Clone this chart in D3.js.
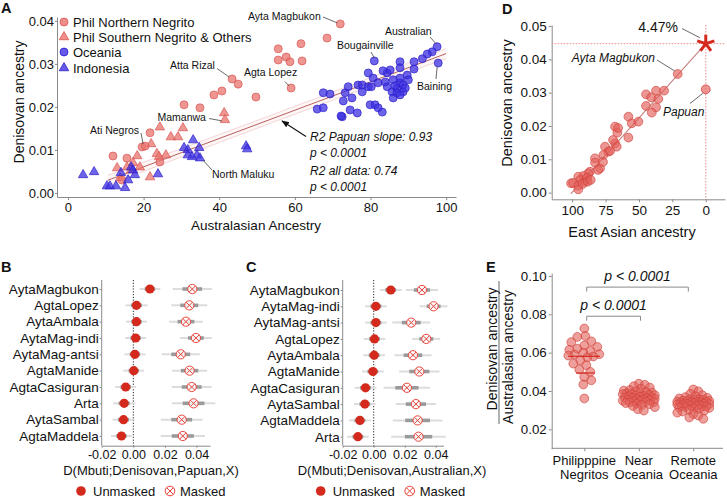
<!DOCTYPE html>
<html><head><meta charset="utf-8">
<script src="https://cdn.jsdelivr.net/npm/d3@7"></script>
<style>body{margin:0;background:#fff}svg{display:block}</style>
</head><body>
<svg id="c" width="727" height="498"></svg>
<script>
const FF = "'Liberation Sans', Arial, Helvetica, sans-serif";

// ---------- Panel A data ----------
const northNegritoX = [72.0,68.5,61.6,55.6,55.6,57.7,58.7,61.9,43.4,45.0,59.0,40.7,38.6,49.7,30.7,34.9,21.7,19.6,20.4,11.9,15.6,14.3,24.3];
const northNegritoY = [0.0393,0.0360,0.0347,0.0335,0.0309,0.0316,0.0305,0.0307,0.0265,0.0253,0.0244,0.0237,0.0228,0.0223,0.0205,0.0198,0.0140,0.0107,0.0109,0.0086,0.0081,0.0030,0.0072];
const southNegritoX = [41.3,41.5,24.3,30.4,27.2,29.1,22.0,18.3,23.5,25.9,24.1,13.0,15.6,19.0,21.7,17.2,13.8,16.7];
const southNegritoY = [0.0186,0.0170,0.0153,0.0151,0.0130,0.0130,0.0114,0.0086,0.0091,0.0088,0.0084,0.0058,0.0060,0.0060,0.0037,0.0070,0.0035,0.0053];
const oceaniaX = [81.0,97.6,96.3,95.0,93.7,91.5,97.9,91.5,87.8,87.8,67.5,69.3,65.9,67.5,72.5,74.6,75.1,72.8,73.3,74.1,76.7,77.8,79.4,79.9,81.2,82.0,83.1,79.4,80.7,82.0,83.9,84.4,85.2,85.7,86.0,87.0,87.8,87.8,88.6,88.6,89.7,90.0,86.0,77.8,87.0,87.8,84.4,86.5,89.2,80.2,83.3,76.5,72.2];
const oceaniaY = [0.0307,0.0340,0.0328,0.0323,0.0312,0.0305,0.0302,0.0288,0.0305,0.0291,0.0233,0.0230,0.0195,0.0198,0.0177,0.0193,0.0221,0.0214,0.0233,0.0247,0.0251,0.0235,0.0279,0.0205,0.0205,0.0198,0.0188,0.0247,0.0267,0.0256,0.0258,0.0279,0.0286,0.0235,0.0221,0.0244,0.0256,0.0267,0.0251,0.0235,0.0274,0.0263,0.0263,0.0251,0.0233,0.0228,0.0247,0.0249,0.0244,0.0247,0.0284,0.0186,0.0179];
const indonesiaX = [33.1,30.7,31.7,34.7,31.7,34.1,34.9,47.1,47.4,4.0,6.9,16.7,17.2,17.7,14.0,15.9,10.3,11.1,12.7,15.1,23.8,32.8];
const indonesiaY = [0.0123,0.0105,0.0100,0.0105,0.0088,0.0088,0.0081,0.0109,0.0102,0.0042,0.0049,0.0060,0.0053,0.0042,0.0047,0.0030,0.0016,0.0016,0.0016,0.0012,0.0044,0.0084];
const aXTicks = [0,20,40,60,80,100];
const aYTicks = [0,0.01,0.02,0.03,0.04];
const aFitX = [10.5,100];
const aSlope = 0.000329, aIntercept = -0.0005;
const aBandX = [10.5,30,55,80,100];
const aBandHW = [0.00115,0.00097,0.0009,0.00097,0.00115];

// ---------- Panels B, C data ----------
const bRows = ["AytaMagbukon","AgtaLopez","AytaAmbala","AytaMag-indi","AytaMag-antsi","AgtaManide","AgtaCasiguran","Arta","AytaSambal","AgtaMaddela"];
const bUnmasked = [0.0105,0.0020,0.0020,0.0015,0.0010,0.0003,-0.0048,-0.0058,-0.0062,-0.0075];
const bUnmaskedSE = [0.0033,0.0035,0.0033,0.0033,0.0033,0.0033,0.0033,0.0035,0.0035,0.0033];
const bMasked = [0.0373,0.0354,0.0333,0.0396,0.0300,0.0356,0.0369,0.0381,0.0306,0.0313];
const bMaskedSE = [0.0062,0.0057,0.0053,0.0050,0.0060,0.0055,0.0063,0.0069,0.0066,0.0070];
const cRows = ["AytaMagbukon","AytaMag-indi","AytaMag-antsi","AgtaLopez","AytaAmbala","AgtaManide","AgtaCasiguran","AytaSambal","AgtaMaddela","Arta"];
const cUnmasked = [0.0110,0.0014,0.0014,0.0005,0.0003,-0.0005,-0.0053,-0.0057,-0.0089,-0.0102];
const cUnmaskedSE = [0.0035,0.0035,0.0035,0.0035,0.0035,0.0035,0.0035,0.0035,0.0035,0.0035];
const cMasked = [0.0311,0.0386,0.0242,0.0339,0.0253,0.0294,0.0214,0.0272,0.0283,0.0289];
const cMaskedSE = [0.0052,0.0045,0.0061,0.0045,0.0060,0.0065,0.0075,0.0065,0.0080,0.0088];
const dxTicks = [-0.02,0,0.02,0.04];

// ---------- Panel D data ----------
const dEastAsian = [21.0,44.7,37.2,31.2,40.9,35.5,44.7,37.2,40.4,57.9,55.4,50.4,57.9,67.9,66.2,65.6,67.9,66.6,75.4,72.9,76.6,82.9,82.9,79.1,86.6,87.9,91.6,95.4,94.1,90.3,88.8,100.8,99.3,95.4,95.4,92.1,88.3,86.1,71.6,69.4,76.9,80.6];
const dDenisovan = [0.0356,0.0295,0.0306,0.0306,0.0286,0.0281,0.0260,0.0256,0.0240,0.0228,0.0208,0.0213,0.0165,0.0198,0.0180,0.0194,0.0148,0.0138,0.0138,0.0123,0.0113,0.0103,0.0090,0.0073,0.0063,0.0058,0.0050,0.0048,0.0038,0.0033,0.0044,0.0028,0.0029,0.0021,0.0010,0.0026,0.0033,0.0038,0.0125,0.0158,0.0092,0.0068];
const dPapuan = [0, 0.0310];
const dFitX = [101, 0];
const dFitY = [-0.0004, 0.0447];
const dStar = [0, 0.0447];
const dXTicks = [100,75,50,25,0];
const dYTicks = [0,0.01,0.02,0.03,0.04,0.05];

// ---------- Panel E data ----------
const eGroups = ["Philipppine Negritos","Near Oceania","Remote Oceania"];
const eNegritos = [0.0726,0.0687,0.0682,0.0659,0.0655,0.0638,0.0630,0.0621,0.0609,0.0615,0.0600,0.0592,0.0590,0.0585,0.0580,0.0575,0.0560,0.0543,0.0535,0.0512,0.0500,0.0473,0.0456,0.0434,0.0361];
const eNear = [0.0438,0.0432,0.0425,0.0418,0.0412,0.0405,0.0402,0.0398,0.0395,0.0392,0.0390,0.0388,0.0385,0.0383,0.0380,0.0378,0.0376,0.0374,0.0372,0.0370,0.0368,0.0366,0.0364,0.0362,0.0360,0.0358,0.0356,0.0354,0.0352,0.0350,0.0348,0.0346,0.0344,0.0342,0.0340,0.0337,0.0334,0.0331,0.0327,0.0322,0.0316,0.0305,0.0298];
const eRemote = [0.0408,0.0398,0.0385,0.0378,0.0372,0.0368,0.0364,0.0361,0.0358,0.0356,0.0354,0.0352,0.0350,0.0348,0.0347,0.0345,0.0344,0.0342,0.0341,0.0340,0.0338,0.0337,0.0335,0.0334,0.0332,0.0331,0.0330,0.0328,0.0326,0.0325,0.0323,0.0321,0.0319,0.0317,0.0315,0.0312,0.0310,0.0306,0.0302,0.0298,0.0293,0.0287,0.0280,0.0272,0.0262,0.0255];
const eNegritoLines = [0.0581, 0.0494];
const eYTicks = [0.02,0.04,0.06,0.08,0.10];
const eBrackets = [[0, 2, 0.0942], [0, 1, 0.0790]];

// ---------- helpers ----------
const RED_F = "#e8736d", RED_S = "#d9534f", BLUE_F = "#3d30e2", BLUE_S = "#2b1fca";
const DARKRED = "#d42a1e";
const svg = d3.select('#c');
function txt(g, x, y, s, o = {}) {
  const t = g.append('text').attr('x', x).attr('y', y).text(s)
    .attr('font-family', FF).attr('font-size', o.fs || 13).attr('fill', o.fill || '#111');
  if (o.anchor) t.attr('text-anchor', o.anchor);
  if (o.italic) t.attr('font-style', 'italic');
  if (o.bold) t.attr('font-weight', 'bold');
  if (o.rot) t.attr('transform', `rotate(-90,${x},${y})`).attr('dominant-baseline', 'central').attr('text-anchor', 'middle');
  return t;
}
function styleAxis(g, fs) {
  g.attr('font-family', FF).attr('font-size', fs);
  g.select('.domain').attr('stroke', '#8a8a8a');
  g.selectAll('.tick line').attr('stroke', '#8a8a8a');
  g.selectAll('.tick text').attr('fill', '#111');
}
function leader(g, x1, y1, x2, y2) {
  g.append('line').attr('x1', x1).attr('y1', y1).attr('x2', x2).attr('y2', y2).attr('stroke', '#444').attr('stroke-width', 0.8);
}
const fmt2 = d => d.toFixed(2);

// ================= Panel A =================
const gA = svg.append('g');
const xA = d3.scaleLinear().domain([-2.9, 102.6]).range([57, 456]);
const yA = d3.scaleLinear().domain([-0.00093, 0.0409]).range([197, 17]);
styleAxis(gA.append('g').attr('transform', 'translate(0,197)')
  .call(d3.axisBottom(xA).tickValues(aXTicks).tickSize(3).tickSizeOuter(0).tickPadding(3)), 13);
styleAxis(gA.append('g').attr('transform', 'translate(57,0)')
  .call(d3.axisLeft(yA).tickValues(aYTicks).tickFormat(fmt2).tickSize(2).tickSizeOuter(0).tickPadding(1)), 13);
txt(gA, 256, 229.5, 'Australasian Ancestry', {anchor: 'middle', fs: 13.5});
txt(gA, 19, 102, 'Denisovan ancestry', {rot: true, fs: 14});
txt(gA, 1, 13, 'A', {bold: true, fs: 14.5});

// band & fit
const bandArea = d3.area().x((d, i) => xA(d)).y0((d, i) => yA(aIntercept + aSlope * d - aBandHW[i])).y1((d, i) => yA(aIntercept + aSlope * d + aBandHW[i])).curve(d3.curveMonotoneX);
gA.append('path').attr('d', bandArea(aBandX)).attr('fill', '#fbeaea').attr('opacity', 0.45);
[-1, 1].forEach(s => {
  gA.append('path').attr('d', d3.line().x(d => xA(d)).y((d, i) => yA(aIntercept + aSlope * d + s * aBandHW[i])).curve(d3.curveMonotoneX)(aBandX))
    .attr('fill', 'none').attr('stroke', '#f3cccc').attr('stroke-width', 0.8);
});
gA.append('path').attr('d', d3.line().x(d => xA(d)).y(d => yA(aIntercept + aSlope * d))(aFitX))
  .attr('fill', 'none').attr('stroke', '#b8605c').attr('stroke-width', 1);

function drawSeries(g, xs, ys, X, Y, shape, fill, stroke, r) {
  const sym = shape === 'tri' ? d3.symbol(d3.symbolTriangle, r * r * 2.2) : d3.symbol(d3.symbolCircle, Math.PI * r * r);
  g.append('g').selectAll('path').data(xs).join('path')
    .attr('d', sym).attr('transform', (d, i) => `translate(${X(d)},${Y(ys[i])})`)
    .attr('fill', fill).attr('fill-opacity', 0.75).attr('stroke', stroke).attr('stroke-opacity', 0.85).attr('stroke-width', 0.8);
}
drawSeries(gA, southNegritoX, southNegritoY, xA, yA, 'tri', RED_F, RED_S, 4.2);
drawSeries(gA, northNegritoX, northNegritoY, xA, yA, 'circle', RED_F, RED_S, 4);
drawSeries(gA, indonesiaX, indonesiaY, xA, yA, 'tri', BLUE_F, BLUE_S, 4.2);
drawSeries(gA, oceaniaX, oceaniaY, xA, yA, 'circle', BLUE_F, BLUE_S, 4);

// legend
const legA = [['Phil Northern Negrito', 'circle', RED_F, RED_S], ['Phil Southern Negrito & Others', 'tri', RED_F, RED_S], ['Oceania', 'circle', BLUE_F, BLUE_S], ['Indonesia', 'tri', BLUE_F, BLUE_S]];
const legY = [22, 37, 52, 68];
legA.forEach((L, i) => {
  const sym = L[1] === 'tri' ? d3.symbol(d3.symbolTriangle, 4.2 * 4.2 * 2.2) : d3.symbol(d3.symbolCircle, Math.PI * 16);
  gA.append('path').attr('d', sym).attr('transform', `translate(64,${legY[i]})`).attr('fill', L[2]).attr('fill-opacity', 0.8).attr('stroke', L[3]).attr('stroke-width', 0.8);
  txt(gA, 73, legY[i] + 4.6, L[0], {fs: 13});
});

// annotations A
const annFs = 10.5;
txt(gA, 248, 19.5, 'Ayta Magbukon', {fs: annFs}); leader(gA, 323, 17, xA(northNegritoX[0]) - 3, yA(northNegritoY[0]) - 1);
txt(gA, 385, 34.5, 'Australian', {fs: annFs}); leader(gA, 430, 37, xA(oceaniaX[1]) - 1, yA(oceaniaY[1]) - 3);
txt(gA, 337, 48.5, 'Bougainville', {fs: annFs}); leader(gA, 371, 52, xA(oceaniaX[0]), yA(oceaniaY[0]) - 3);
txt(gA, 417, 89.5, 'Baining', {fs: annFs}); leader(gA, 436, 79, xA(oceaniaX[6]) - 1, yA(oceaniaY[6]) + 3);
txt(gA, 170, 69, 'Atta Rizal', {fs: annFs}); leader(gA, 217, 68.5, xA(northNegritoX[8]) - 3, yA(northNegritoY[8]) - 2);
txt(gA, 244, 75.5, 'Agta Lopez', {fs: annFs}); leader(gA, 285, 81.5, xA(northNegritoX[10]) - 2, yA(northNegritoY[10]) - 2);
txt(gA, 157.5, 120.5, 'Mamanwa', {fs: annFs}); leader(gA, 209, 118.5, xA(southNegritoX[1]) - 3, yA(southNegritoY[1]) + 1);
txt(gA, 90, 134, 'Ati Negros', {fs: annFs}); leader(gA, 141, 133, xA(northNegritoX[17]) + 1, yA(northNegritoY[17]) - 3);
txt(gA, 212, 178, 'North Maluku', {fs: annFs}); leader(gA, 212, 170, xA(indonesiaX[6]) + 3, yA(indonesiaY[6]) + 2);

// arrow + stats text
const defs = svg.append('defs');
defs.append('marker').attr('id', 'arr').attr('viewBox', '0 0 10 10').attr('refX', 9).attr('refY', 5)
  .attr('markerWidth', 7).attr('markerHeight', 7).attr('orient', 'auto-start-reverse')
  .append('path').attr('d', 'M0,1 L10,5 L0,9 z').attr('fill', '#111');
gA.append('line').attr('x1', 306).attr('y1', 136.5).attr('x2', 282).attr('y2', 121).attr('stroke', '#111').attr('stroke-width', 1.1).attr('marker-end', 'url(#arr)');
txt(gA, 310, 141, 'R2 Papuan slope: 0.93', {italic: true, fs: 12});
txt(gA, 310, 157, 'p < 0.0001', {italic: true, fs: 12});
txt(gA, 310, 175, 'R2 all data: 0.74', {italic: true, fs: 12});
txt(gA, 310, 191, 'p < 0.0001', {italic: true, fs: 12});

// ================= Panels B & C =================
function maskedSym(g, x, y, r) {
  g.append('circle').attr('cx', x).attr('cy', y).attr('r', r).attr('fill', '#fff').attr('fill-opacity', 0.85).attr('stroke', '#e8453c').attr('stroke-width', 1);
  const k = r * 0.7;
  g.append('path').attr('d', `M${x - k},${y - k}L${x + k},${y + k}M${x - k},${y + k}L${x + k},${y - k}`).attr('stroke', '#e8453c').attr('stroke-width', 1);
}
function dPanel(o) {
  const g = svg.append('g');
  const x = d3.scaleLinear().domain(o.xDom).range(o.xRange);
  const y = d3.scalePoint().domain(o.rows).range(o.yRange);
  styleAxis(g.append('g').attr('transform', `translate(0,445.7)`)
    .call(d3.axisBottom(x).tickValues(dxTicks).tickFormat(fmt2).tickSize(2).tickSizeOuter(0).tickPadding(2)), 12.5);
  const ya = g.append('g').attr('transform', `translate(${o.xRange[0]},0)`)
    .call(d3.axisLeft(y).tickSize(2).tickSizeOuter(0).tickPadding(1));
  styleAxis(ya, 13.5);
  ya.select('.domain').attr('d', `M-0,280V445.7`);
  g.append('line').attr('x1', x(0)).attr('x2', x(0)).attr('y1', 280).attr('y2', 445.7)
    .attr('stroke', '#222').attr('stroke-width', 1).attr('stroke-dasharray', '1.2,1.6');
  o.rows.forEach((r, i) => {
    const yy = y(r);
    [[o.unm[i], o.unmSE[i]], [o.msk[i], o.mskSE[i]]].forEach(([v, se]) => {
      g.append('line').attr('x1', x(v - 2 * se)).attr('x2', x(v + 2 * se)).attr('y1', yy).attr('y2', yy).attr('stroke', '#dcdcdc').attr('stroke-width', 2);
      g.append('line').attr('x1', x(v - se)).attr('x2', x(v + se)).attr('y1', yy).attr('y2', yy).attr('stroke', '#9a9a9a').attr('stroke-width', 3.6);
    });
    g.append('circle').attr('cx', x(o.unm[i])).attr('cy', yy).attr('r', 4.6).attr('fill', DARKRED);
    maskedSym(g, x(o.msk[i]), yy, 4.6);
  });
  txt(g, o.titleX, 474.5, o.title, {anchor: 'middle', fs: 13});
  g.append('circle').attr('cx', o.legX).attr('cy', 491).attr('r', 4.8).attr('fill', DARKRED);
  txt(g, o.legX + 12, 495.7, 'Unmasked', {fs: 13});
  maskedSym(g, o.legX + 89, 491, 4.8);
  txt(g, o.legX + 99, 495.7, 'Masked', {fs: 13});
  txt(g, o.labX, 271.5, o.lab, {bold: true, fs: 14.5});
}
dPanel({rows: bRows, unm: bUnmasked, unmSE: bUnmaskedSE, msk: bMasked, mskSE: bMaskedSE,
  xDom: [-0.02, 0.0485], xRange: [101.7, 210], yRange: [289, 436],
  title: 'D(Mbuti;Denisovan,Papuan,X)', titleX: 151, legX: 81, lab: 'B', labX: 1});
dPanel({rows: cRows, unm: cUnmasked, unmSE: cUnmaskedSE, msk: cMasked, mskSE: cMaskedSE,
  xDom: [-0.02, 0.045], xRange: [342.7, 443.5], yRange: [290, 436.7],
  title: 'D(Mbuti;Denisovan,Australian,X)', titleX: 392, legX: 320.7, lab: 'C', labX: 246});

// ================= Panel D =================
const gD = svg.append('g');
const xD = d3.scaleLinear().domain([115.3, -14.4]).range([551.7, 725]);
const yD = d3.scaleLinear().domain([-0.002, 0.0503]).range([199.3, 25]);
styleAxis(gD.append('g').attr('transform', 'translate(0,199.3)')
  .call(d3.axisBottom(xD).tickValues(dXTicks).tickSize(3).tickSizeOuter(0).tickPadding(3)), 13.5);
styleAxis(gD.append('g').attr('transform', 'translate(551.7,0)')
  .call(d3.axisLeft(yD).tickValues(dYTicks).tickFormat(fmt2).tickSize(3).tickSizeOuter(0).tickPadding(2)), 13.5);
txt(gD, 632, 236.5, 'East Asian ancestry', {anchor: 'middle', fs: 14.5});
txt(gD, 507, 103, 'Denisovan ancestry', {rot: true, fs: 14.5});
txt(gD, 502, 14, 'D', {bold: true, fs: 14.5});
gD.append('line').attr('x1', 551.7).attr('x2', 725).attr('y1', yD(dStar[1])).attr('y2', yD(dStar[1]))
  .attr('stroke', '#f08a8a').attr('stroke-width', 1).attr('stroke-dasharray', '1.5,1.5');
gD.append('line').attr('x1', xD(dStar[0])).attr('x2', xD(dStar[0])).attr('y1', 25).attr('y2', 199.3)
  .attr('stroke', '#f08a8a').attr('stroke-width', 1).attr('stroke-dasharray', '1.5,1.5');
gD.append('line').attr('x1', xD(dFitX[0])).attr('y1', yD(dFitY[0])).attr('x2', xD(dFitX[1])).attr('y2', yD(dFitY[1]))
  .attr('stroke', '#c4847f').attr('stroke-width', 1.1);
gD.append('g').selectAll('circle').data(dEastAsian).join('circle')
  .attr('cx', d => xD(d)).attr('cy', (d, i) => yD(dDenisovan[i])).attr('r', 4.4)
  .attr('fill', '#e3605a').attr('fill-opacity', 0.65).attr('stroke', '#d0403a').attr('stroke-opacity', 0.8).attr('stroke-width', 0.8);
gD.append('circle').attr('cx', xD(dPapuan[0])).attr('cy', yD(dPapuan[1])).attr('r', 4.4)
  .attr('fill', '#e3605a').attr('fill-opacity', 0.65).attr('stroke', '#d0403a').attr('stroke-width', 0.8);
// star
(function () {
  const cx = xD(dStar[0]), cy = yD(dStar[1]); let d = '';
  for (let k = 0; k < 5; k++) { const a = (-90 + 72 * k) * Math.PI / 180; d += `M${cx},${cy}L${cx + 9 * Math.cos(a)},${cy + 9 * Math.sin(a)}`; }
  gD.append('path').attr('d', d).attr('stroke', DARKRED).attr('stroke-width', 3).attr('stroke-linecap', 'butt');
})();
txt(gD, 678, 31.5, '4.47%', {anchor: 'end', fs: 14});
leader(gD, 682, 28.5, xD(dStar[0]) - 6, yD(dStar[1]) - 6);
txt(gD, 655, 61.5, 'Ayta Magbukon', {anchor: 'end', fs: 12, italic: true});
leader(gD, 657, 60, xD(dEastAsian[0]) - 3, yD(dDenisovan[0]) - 3);
txt(gD, 663, 116, 'Papuan', {fs: 12, italic: true});
leader(gD, 690, 103.5, xD(dPapuan[0]) - 3, yD(dPapuan[1]) + 4);

// ================= Panel E =================
const gE = svg.append('g');
const xE = d3.scalePoint().domain(eGroups).range([584.3, 693.3]);
const yE = d3.scaleLinear().domain([0.0099, 0.1015]).range([448.7, 273.1]);
const ax = gE.append('g').attr('transform', 'translate(0,448.3)')
  .call(d3.axisBottom(xE).tickSize(3).tickSizeOuter(0).tickFormat(''));
styleAxis(ax, 13);
ax.select('.domain').attr('d', 'M551.7,0H723');
styleAxis(gE.append('g').attr('transform', 'translate(551.7,0)')
  .call(d3.axisLeft(yE).tickValues(eYTicks).tickFormat(fmt2).tickSize(3).tickSizeOuter(0).tickPadding(2)), 13.3);
eGroups.forEach(gname => {
  const sp = gname.indexOf(' ');
  txt(gE, xE(gname), 464.5, gname.slice(0, sp), {anchor: 'middle', fs: 13});
  txt(gE, xE(gname), 479, gname.slice(sp + 1), {anchor: 'middle', fs: 13});
});
txt(gE, 486, 272, 'E', {bold: true, fs: 14.5});
txt(gE, 492, 349, 'Denisovan ancestry', {rot: true, fs: 14});
gE.append('line').attr('x1', 499).attr('x2', 499).attr('y1', 281).attr('y2', 424).attr('stroke', '#555').attr('stroke-width', 0.9);
txt(gE, 508, 357, 'Australasian ancestry', {rot: true, fs: 14});

function swarm(vals, cx, minD, maxOff) {
  const pts = vals.map(v => ({v, y: yE(v)})).sort((a, b) => a.y - b.y);
  const placed = [];
  const offs = [0]; for (let o = 1; o <= maxOff; o++) offs.push(o, -o);
  pts.forEach(p => {
    let best = 0, bestD = -1;
    for (const o of offs) {
      let md = Infinity;
      for (const q of placed) { const dd = Math.hypot(q.x - (cx + o), q.y - p.y); if (dd < md) md = dd; }
      if (md >= minD) { best = o; bestD = md; break; }
      if (md > bestD) { bestD = md; best = o; }
    }
    p.x = cx + best; placed.push(p);
  });
  return placed;
}
[[eNegritos, 0, 7.5], [eNear, 1, 5.2], [eRemote, 2, 5.2]].forEach(([vals, gi, md]) => {
  const pts = swarm(vals, xE(eGroups[gi]), md, 16);
  gE.append('g').selectAll('circle').data(pts).join('circle')
    .attr('cx', d => d.x).attr('cy', d => d.y).attr('r', 4.4)
    .attr('fill', '#e3605a').attr('fill-opacity', 0.6).attr('stroke', '#d0403a').attr('stroke-opacity', 0.8).attr('stroke-width', 0.8);
});
gE.append('line').attr('x1', 568).attr('x2', 600).attr('y1', yE(eNegritoLines[0])).attr('y2', yE(eNegritoLines[0])).attr('stroke', DARKRED).attr('stroke-width', 1.2);
gE.append('line').attr('x1', 576).attr('x2', 595).attr('y1', yE(eNegritoLines[1])).attr('y2', yE(eNegritoLines[1])).attr('stroke', DARKRED).attr('stroke-width', 1.2);
eBrackets.forEach(([a, b, v]) => {
  const x1 = xE(eGroups[a]) + 2.4, x2 = xE(eGroups[b]) + (b === 1 ? 1.7 : -5), yy = yE(v);
  gE.append('path').attr('d', `M${x1},${yy + 4.5}V${yy}H${x2}V${yy + 4.5}`).attr('fill', 'none').attr('stroke', '#8a8a8a').attr('stroke-width', 1);
  txt(gE, (x1 + x2) / 2, yy - 6.5, 'p < 0.0001', {anchor: 'middle', fs: 14, italic: true});
});
</script>
</body></html>
